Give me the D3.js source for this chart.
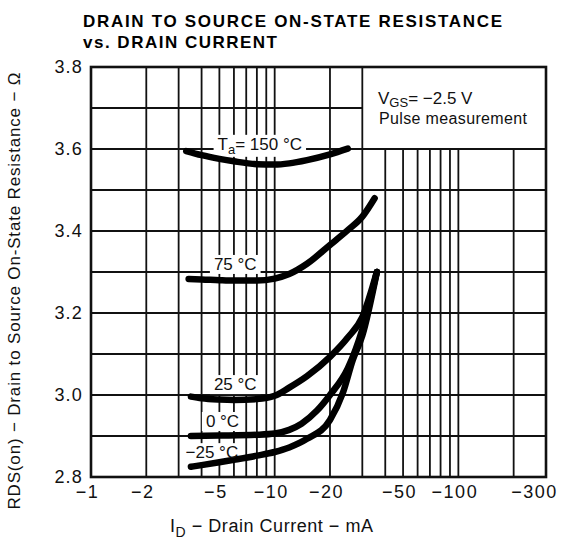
<!DOCTYPE html>
<html>
<head>
<meta charset="utf-8">
<script src="https://cdn.jsdelivr.net/npm/d3@7/dist/d3.min.js"></script>
<style>
  body { margin: 0; background: #fff; }
  svg { display: block; font-family: "Liberation Sans", Arial, Helvetica, sans-serif; }
</style>
</head>
<body>
<script>
// chart data
const xTicks = [1, 2, 5, 10, 20, 50, 100, 300];
const yTicks = [2.8, 3.0, 3.2, 3.4, 3.6, 3.8];
const xGrid = [2, 3, 4, 5, 6, 7, 8, 9, 10, 20, 30, 40, 50, 60, 70, 80, 90, 100, 200];
const yGrid = [2.9, 3.0, 3.1, 3.2, 3.3, 3.4, 3.5, 3.6, 3.7];

// drain current (mA, absolute) and R_DS(on) (ohm) per ambient temperature
const id150 = [3.3, 4, 5, 6, 8, 10, 12, 15, 20, 25];
const rds150 = [3.595, 3.585, 3.576, 3.57, 3.563, 3.562, 3.565, 3.573, 3.587, 3.601];

const id75 = [3.4, 4, 5, 6, 8, 10, 12, 15, 20, 25, 30, 35];
const rds75 = [3.283, 3.282, 3.28, 3.279, 3.279, 3.284, 3.295, 3.32, 3.366, 3.402, 3.435, 3.48];

const id25 = [3.5, 4, 5, 6, 8, 10, 12, 15, 20, 25, 30, 36];
const rds25 = [2.996, 2.992, 2.989, 2.988, 2.99, 2.998, 3.018, 3.046, 3.093, 3.14, 3.19, 3.3];

const id0 = [3.5, 5, 8, 10, 12, 14, 17, 20, 25, 30, 36];
const rds0 = [2.9, 2.901, 2.903, 2.906, 2.915, 2.93, 2.962, 3.0, 3.065, 3.16, 3.3];

const idm25 = [3.5, 4, 5, 6, 8, 10, 12, 15, 20, 23.5, 26.6, 30, 36];
const rdsm25 = [2.825, 2.829, 2.836, 2.842, 2.852, 2.861, 2.872, 2.893, 2.939, 3.005, 3.085, 3.145, 3.3];

// temperature labels, anchored in data coordinates
const tempLabels = [
  { t: '150 °C', sub: true, x: 8.3, y: 3.598 },
  { t: '75 °C', x: 6.1, y: 3.305 },
  { t: '25 °C', x: 6.1, y: 3.012 },
  { t: '0 °C', x: 5.2, y: 2.922 },
  { t: '\u221225 °C', x: 4.55, y: 2.846 }
];

const W = 567, H = 540;
const m = { left: 91, right: 546, top: 67, bottom: 477 };

const svg = d3.select('body').append('svg')
  .attr('width', W)
  .attr('height', H);

const x = d3.scaleLog().domain([1, 300]).range([m.left, m.right]);
const y = d3.scaleLinear().domain([2.8, 3.8]).range([m.bottom, m.top]);

// layers, bottom to top
const gGrid = svg.append('g').attr('stroke', '#111').attr('stroke-width', 1.8);
const gBg = svg.append('g');
const gCurves = svg.append('g');
const gLab = svg.append('g');

// title
svg.append('text')
  .attr('x', 83).attr('y', 27)
  .attr('font-size', 17).attr('font-weight', 'bold')
  .attr('textLength', 419).attr('lengthAdjust', 'spacing')
  .text('DRAIN TO SOURCE ON-STATE RESISTANCE');
svg.append('text')
  .attr('x', 83).attr('y', 48)
  .attr('font-size', 17).attr('font-weight', 'bold')
  .attr('textLength', 194).attr('lengthAdjust', 'spacing')
  .text('vs. DRAIN CURRENT');

// grid
gGrid.selectAll('line.v')
  .data(xGrid)
  .enter().append('line')
  .attr('class', 'v')
  .attr('x1', d => x(d)).attr('x2', d => x(d))
  // the condition box in the upper right has no grid
  .attr('y1', d => (d > 30 ? y(3.6) : m.top))
  .attr('y2', m.bottom);

gGrid.selectAll('line.h')
  .data(yGrid)
  .enter().append('line')
  .attr('class', 'h')
  .attr('x1', m.left)
  .attr('x2', d => (d > 3.6 ? x(30) : m.right))
  .attr('y1', d => y(d)).attr('y2', d => y(d));

gGrid.append('rect')
  .attr('x', m.left).attr('y', m.top)
  .attr('width', m.right - m.left).attr('height', m.bottom - m.top)
  .attr('fill', 'none').attr('stroke-width', 2.6);

// axes (labels only)
const xAxis = svg.append('g')
  .attr('transform', 'translate(0,' + m.bottom + ')')
  .call(d3.axisBottom(x).tickValues(xTicks).tickSize(0).tickPadding(8)
    .tickFormat(d => '\u2212' + d));
xAxis.select('.domain').remove();
xAxis.selectAll('text')
  .attr('font-size', 18).attr('font-family', null)
  .attr('fill', '#111').attr('letter-spacing', 1.5)
  .attr('dx', d => (d === 300 ? -12 : -4));

const yAxis = svg.append('g')
  .attr('transform', 'translate(' + m.left + ',0)')
  .call(d3.axisLeft(y).tickValues(yTicks).tickSize(0).tickPadding(8)
    .tickFormat(d3.format('.1f')));
yAxis.select('.domain').remove();
yAxis.selectAll('text')
  .attr('font-size', 18).attr('font-family', null)
  .attr('fill', '#111').attr('letter-spacing', 1.2);

// axis titles
const xt = svg.append('text')
  .attr('x', 170).attr('y', 532)
  .attr('font-size', 18).attr('fill', '#111')
  .attr('textLength', 203).attr('lengthAdjust', 'spacing');
xt.append('tspan').text('I');
xt.append('tspan').attr('font-size', 14).attr('dy', 5).text('D');
xt.append('tspan').attr('dy', -5).text(' \u2212 Drain Current \u2212 mA');

const yt = svg.append('text')
  .attr('transform', 'translate(20,291) rotate(-90)')
  .attr('text-anchor', 'middle')
  .attr('font-size', 17).attr('fill', '#111')
  .attr('textLength', 437).attr('lengthAdjust', 'spacing');
yt.append('tspan').text('R');
yt.append('tspan').text('DS(on)');
yt.append('tspan').text(' \u2212 Drain to Source On-State Resistance \u2212 \u03a9');

// condition note
const vg = svg.append('text')
  .attr('x', 378).attr('y', 104)
  .attr('font-size', 17).attr('fill', '#111');
vg.append('tspan').text('V');
vg.append('tspan').attr('font-size', 13).attr('dy', 3).text('GS');
vg.append('tspan').attr('dy', -3).text('= \u22122.5 V');

svg.append('text')
  .attr('x', 379).attr('y', 124)
  .attr('font-size', 16).attr('fill', '#111')
  .attr('textLength', 148).attr('lengthAdjust', 'spacing')
  .text('Pulse measurement');

// temperature labels
const labText = gLab.selectAll('text')
  .data(tempLabels)
  .enter().append('text')
  .attr('x', d => x(d.x)).attr('y', d => y(d.y))
  .attr('text-anchor', 'middle')
  .attr('font-size', 17).attr('fill', '#111');

labText.each(function(d) {
  const t = d3.select(this);
  if (d.sub) {
    t.append('tspan').text('T');
    t.append('tspan').attr('font-size', 13).attr('dy', 4).text('a');
    t.append('tspan').attr('dy', -4).text('= ' + d.t);
  } else {
    t.text(d.t);
  }
});

// white patch under each label, breaking the grid
labText.each(function() {
  const b = this.getBBox();
  gBg.append('rect')
    .attr('x', b.x - 4).attr('y', b.y)
    .attr('width', b.width + 8).attr('height', b.height)
    .attr('fill', '#fff');
});

// curves
const series = [
  [id150, rds150],
  [id75, rds75],
  [id25, rds25],
  [id0, rds0],
  [idm25, rdsm25]
];

const line = d3.line()
  .x(d => x(d[0]))
  .y(d => y(d[1]))
  .curve(d3.curveMonotoneX);

gCurves.selectAll('path')
  .data(series)
  .enter().append('path')
  .attr('d', s => line(s[0].map((v, i) => [v, s[1][i]])))
  .attr('fill', 'none')
  .attr('stroke', '#000')
  .attr('stroke-width', 6.5)
  .attr('stroke-linecap', 'round');
</script>
</body>
</html>
